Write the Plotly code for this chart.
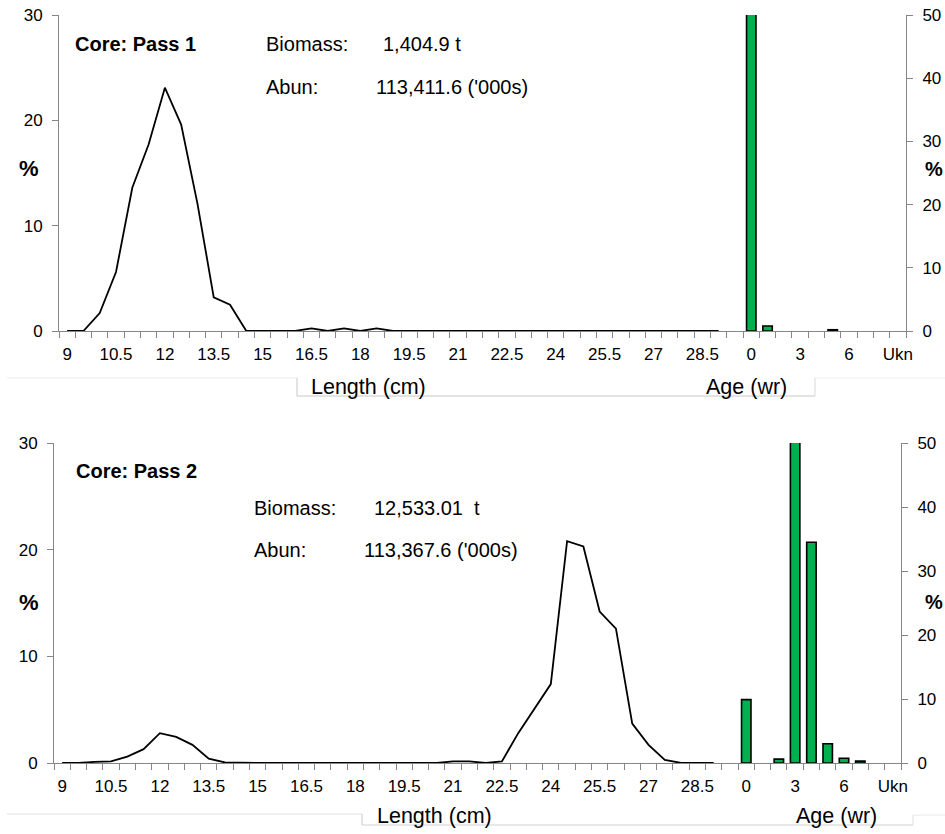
import plotly.graph_objects as go

# ---------------- data ----------------
LENGTHS = ["9", "9.5", "10", "10.5", "11", "11.5", "12", "12.5", "13", "13.5",
           "14", "14.5", "15", "15.5", "16", "16.5", "17", "17.5", "18", "18.5",
           "19", "19.5", "20", "20.5", "21", "21.5", "22", "22.5", "23", "23.5",
           "24", "24.5", "25", "25.5", "26", "26.5", "27", "27.5", "28", "28.5",
           "29", "29.5"]
AGES = ["0", "1", "2", "3", "4", "5", "6", "7", "8", "Ukn"]

# length frequency (% , left axis)
pass1_length = [0, 0, 1.7, 5.6, 13.6, 17.7, 23.1, 19.6, 12.1, 3.2,
                2.5, 0, 0, 0, 0, 0.25, 0, 0.25, 0, 0.25,
                0, 0, 0, 0, 0, 0, 0, 0, 0, 0,
                0, 0, 0, 0, 0, 0, 0, 0, 0, 0,
                0, None]
pass2_length = [0, 0, 0.1, 0.15, 0.6, 1.3, 2.8, 2.45, 1.7, 0.4,
                0.05, 0, 0, 0, 0, 0, 0, 0, 0, 0,
                0, 0, 0, 0, 0.15, 0.15, 0, 0.15, 2.8, 5.1,
                7.4, 20.8, 20.3, 14.2, 12.6, 3.7, 1.7, 0.3, 0, 0,
                0, None]

# age composition (% , right axis)
pass1_age = [98.9, 0.8, None, None, None, 0.2, None, None, None, None]
pass2_age = [9.9, None, 0.6, 51.0, 34.5, 3.0, 0.75, 0.3, None, None]

panel_titles = ["Core: Pass 1", "Core: Pass 2"]
biomass_text = ["1,404.9 t", "12,533.01\u00a0\u00a0t"]
abun_text = ["113,411.6 ('000s)", "113,367.6 ('000s)"]

CATS = LENGTHS + AGES
TICKTEXT = [c if i % 3 == 0 else "" for i, c in enumerate(CATS)]

W, H = 945, 834
FONT = "Liberation Sans, Arial, sans-serif"
AXC = "#868686"
GREEN = "#00B050"


def px(x):
    return x / W


def py(y):
    return 1 - y / H


fig = go.Figure()

# panel geometry (pixels)
panels = [
    dict(x0=59, x1=906, y0=15, y1=331, xa="x", ya="y", ya2="y2"),
    dict(x0=54, x1=901, y0=443, y1=763, xa="x2", ya="y3", ya2="y4"),
]
lengths_data = [pass1_length, pass2_length]
ages_data = [pass1_age, pass2_age]

for i, p in enumerate(panels):
    fig.add_trace(go.Scatter(x=LENGTHS, y=lengths_data[i], mode="lines",
                             line=dict(color="black", width=1.8),
                             connectgaps=False, showlegend=False,
                             xaxis=p["xa"], yaxis=p["ya"]))
    fig.add_trace(go.Bar(x=AGES, y=ages_data[i],
                         marker=dict(color=GREEN, line=dict(color="black", width=1.6)),
                         showlegend=False, xaxis=p["xa"], yaxis=p["ya2"]))

tickfont = dict(family=FONT, size=17, color="black")

def xaxis_cfg(p, anchor):
    return dict(domain=[px(p["x0"]), px(p["x1"])], anchor=anchor,
                type="category", categoryorder="array", categoryarray=CATS,
                range=[-0.5, len(CATS) - 0.5],
                tickmode="array", tickvals=CATS, ticktext=TICKTEXT,
                tickson="boundaries", ticks="outside", ticklen=6, tickangle=0,
                tickcolor=AXC, showline=True, linecolor=AXC, linewidth=1,
                showgrid=False, zeroline=False, tickfont=tickfont,
                ticklabelstandoff=8,
                automargin=False, fixedrange=True)

def yaxis_cfg(p, anchor, rng, side="left", overlay=None):
    d = dict(domain=[py(p["y1"]), py(p["y0"])], anchor=anchor, range=rng,
             tickmode="linear", tick0=0, dtick=10, ticks="outside", ticklen=6,
             tickcolor=AXC, showline=True, linecolor=AXC, linewidth=1,
             showgrid=False, zeroline=False, tickfont=tickfont, side=side,
             automargin=False, fixedrange=True, ticklabelstandoff=6)
    if overlay:
        d["overlaying"] = overlay
    return d

fig.update_layout(
    xaxis=xaxis_cfg(panels[0], "y"),
    yaxis=yaxis_cfg(panels[0], "x", [0, 30]),
    yaxis2=yaxis_cfg(panels[0], "x", [0, 50], side="right", overlay="y"),
    xaxis2=xaxis_cfg(panels[1], "y3"),
    yaxis3=yaxis_cfg(panels[1], "x2", [0, 30]),
    yaxis4=yaxis_cfg(panels[1], "x2", [0, 50], side="right", overlay="y3"),
)

annotations = []

def txt(text, x, y, size=20, bold=False, xanchor="left"):
    annotations.append(dict(text=f"<b>{text}</b>" if bold else text,
                            x=px(x), y=py(y), xref="paper", yref="paper",
                            xanchor=xanchor, yanchor="middle", showarrow=False,
                            font=dict(family=FONT, size=size, color="black")))

# panel 1 texts
txt(panel_titles[0], 73, 44, size=20, bold=True)
txt("Biomass:", 264, 44)
txt(biomass_text[0], 381, 44)
txt("Abun:", 264, 87)
txt(abun_text[0], 374, 87)
txt("%", 29, 169, size=22, bold=True, xanchor="center")
txt("%", 934, 169, size=20, bold=True, xanchor="center")
txt("Length (cm)", 309, 387, size=21.5)
txt("Age (wr)", 704, 387, size=21.5)

# panel 2 texts
txt(panel_titles[1], 74, 471, size=20, bold=True)
txt("Biomass:", 252, 508)
txt(biomass_text[1], 372, 508)
txt("Abun:", 252, 550)
txt(abun_text[1], 362, 550)
txt("%", 29, 602, size=22, bold=True, xanchor="center")
txt("%", 934, 602, size=20, bold=True, xanchor="center")
txt("Length (cm)", 375, 816, size=21.5)
txt("Age (wr)", 794, 816, size=21.5)

shapes = []

def seg(x0, y0, x1, y1, color="#d0d0d0"):
    shapes.append(dict(type="line", xref="paper", yref="paper",
                       x0=px(x0), y0=py(y0), x1=px(x1), y1=py(y1),
                       line=dict(color=color, width=1)))

# faint frame remnants (top)
seg(7, 378, 297, 378, "#ececec")
seg(297, 378, 297, 396, "#c8c8c8")
seg(297, 396, 815, 396, "#c8c8c8")
seg(815, 378, 815, 396, "#d8d8d8")
seg(815, 378, 945, 378, "#f0f0f0")
# faint frame remnants (bottom)
seg(7, 814, 362, 814, "#e0e0e0")
seg(362, 814, 362, 825, "#c8c8c8")
seg(362, 825, 913, 825, "#d0d0d0")
seg(913, 815, 913, 825, "#e0e0e0")
seg(913, 815, 945, 815, "#e8e8e8")

fig.update_layout(
    width=W, height=H, margin=dict(l=0, r=0, t=0, b=0),
    template="none", paper_bgcolor="white", plot_bgcolor="rgba(0,0,0,0)",
    font=dict(family=FONT, color="black"),
    bargap=0.42, showlegend=False,
    annotations=annotations, shapes=shapes,
)

fig.write_html("out.html")
